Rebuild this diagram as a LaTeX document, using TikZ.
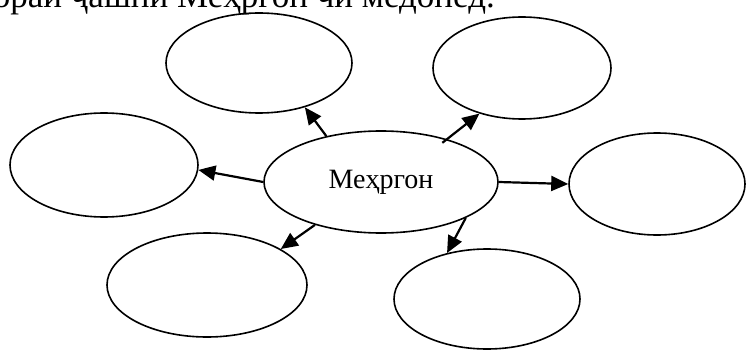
\documentclass[tikz,border=0pt]{standalone}
\usepackage{fontspec}
\setmainfont{Liberation Serif}
\usetikzlibrary{shapes.geometric,arrows.meta}
\tikzset{
  bubble/.style={draw, ellipse, line width=1.6pt, inner sep=0pt},
  arr/.style={line width=2.2pt, -{Triangle[length=17pt,width=15pt]}}
}
\begin{document}
\begin{tikzpicture}[x=1pt, y=-1pt]
      \useasboundingbox (0, 0) rectangle (746, 350);
      \clip (0, 0) rectangle (746, 350);
      \node (title) [anchor=base east, inner sep=0pt, font=\fontsize{35}{40}\selectfont]
            at (495, 8) {Дар бораи ҷашни Меҳргон чи медонед.};
      % centre and the six empty bubbles
      \node (c) [bubble, minimum width=234pt, minimum height=102pt,
                 font=\fontsize{28}{32}\selectfont] at (381, 182) {Меҳргон};
      \node (tl) [bubble, minimum width=186pt, minimum height=100pt] at (259, 63) {};
      \node (tr) [bubble, minimum width=178pt, minimum height=102pt] at (522, 68) {};
      \node (l)  [bubble, minimum width=188pt, minimum height=104pt] at (104, 165) {};
      \node (r)  [bubble, minimum width=176pt, minimum height=102pt] at (657, 184) {};
      \node (bl) [bubble, minimum width=200pt, minimum height=104pt] at (207, 285) {};
      \node (br) [bubble, minimum width=186pt, minimum height=100pt] at (487, 299) {};
      \draw[arr] (c.140) -- (tl.-44);
      \draw[arr, shorten <=-6pt] (c.33) -- (tr.227);
      \draw[arr] (c.180) -- (l.-3);
      \draw[arr] (c.0) -- (r.180);
      \draw[arr] (c.213) -- (bl.26);
      \draw[arr] (c.-23) -- (br.131);
\end{tikzpicture}
\end{document}
